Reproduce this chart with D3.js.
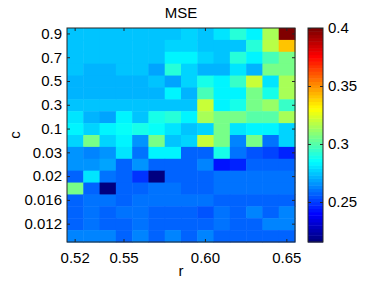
<!DOCTYPE html>
<html><head><meta charset="utf-8">
<script src="https://cdn.jsdelivr.net/npm/d3@7"></script>
<style>body{margin:0;background:#fff}svg{display:block}text{font-family:"Liberation Sans",Arial,sans-serif}</style>
</head><body><svg id="c" width="374" height="281"></svg>
<script>
const rVals = ["0.52","0.53","0.54","0.55","0.56","0.57","0.58","0.59","0.60","0.61","0.62","0.63","0.64","0.65"];
const cVals = ["0.9","0.8","0.7","0.6","0.5","0.4","0.3","0.2","0.1","0.05","0.03","0.025","0.02","0.018","0.016","0.014","0.012","0.01"];
const xTicks = ["0.52","0.55","0.60","0.65"];
const yTicks = ["0.9","0.7","0.5","0.3","0.1","0.03","0.02","0.016","0.012"];
const cbTicks = [0.25,0.3,0.35,0.4];
const mse = [
[0.274,0.274,0.274,0.274,0.274,0.274,0.274,0.278,0.274,0.280,0.292,0.283,0.316,0.400],
[0.274,0.274,0.274,0.274,0.274,0.274,0.277,0.277,0.275,0.275,0.275,0.292,0.318,0.340],
[0.274,0.274,0.274,0.274,0.274,0.274,0.284,0.282,0.277,0.275,0.292,0.282,0.299,0.307],
[0.275,0.271,0.271,0.274,0.274,0.270,0.292,0.277,0.273,0.273,0.279,0.271,0.305,0.307],
[0.273,0.273,0.273,0.273,0.273,0.274,0.270,0.277,0.288,0.282,0.294,0.320,0.279,0.316],
[0.273,0.273,0.273,0.273,0.273,0.273,0.284,0.273,0.297,0.282,0.284,0.305,0.290,0.314],
[0.274,0.274,0.274,0.274,0.274,0.274,0.274,0.275,0.320,0.282,0.288,0.305,0.312,0.295],
[0.279,0.271,0.268,0.282,0.274,0.288,0.292,0.284,0.314,0.305,0.305,0.300,0.300,0.316],
[0.284,0.277,0.284,0.286,0.288,0.286,0.279,0.275,0.277,0.305,0.279,0.284,0.282,0.277],
[0.277,0.307,0.277,0.282,0.267,0.305,0.274,0.277,0.321,0.307,0.263,0.305,0.260,0.277],
[0.265,0.263,0.267,0.279,0.260,0.282,0.282,0.258,0.258,0.288,0.260,0.254,0.251,0.247],
[0.267,0.267,0.270,0.258,0.265,0.258,0.258,0.256,0.263,0.242,0.247,0.256,0.258,0.258],
[0.258,0.279,0.260,0.258,0.249,0.2163,0.256,0.258,0.258,0.259,0.259,0.259,0.259,0.259],
[0.305,0.258,0.218,0.258,0.258,0.260,0.260,0.258,0.258,0.260,0.260,0.260,0.260,0.260],
[0.258,0.260,0.260,0.258,0.260,0.260,0.260,0.260,0.260,0.258,0.258,0.258,0.258,0.258],
[0.258,0.260,0.257,0.260,0.260,0.258,0.258,0.258,0.255,0.260,0.258,0.263,0.258,0.263],
[0.258,0.260,0.258,0.258,0.260,0.258,0.258,0.258,0.258,0.260,0.258,0.258,0.263,0.263],
[0.263,0.263,0.263,0.258,0.263,0.258,0.263,0.258,0.263,0.258,0.258,0.258,0.258,0.256]
];
const vMin = 0.2155, vMax = 0.4;

const svg = d3.select("#c");
const L=67, R=295, T=28, B=242;
const x = d3.scaleBand().domain(rVals).range([L,R]).padding(0);
const y = d3.scaleBand().domain(cVals).range([T,B]).padding(0);
const clamp = v => Math.max(0, Math.min(1, v));
const N = 64;
const jet = d3.range(N).map(i => {
  const t = i/(N-1);
  return d3.rgb(255*clamp(1.5-Math.abs(4*t-3)), 255*clamp(1.5-Math.abs(4*t-2)), 255*clamp(1.5-Math.abs(4*t-1))).toString();
});
const color = d3.scaleQuantize().domain([vMin, vMax]).range(jet);

const cells = [];
cVals.forEach((c,i)=>rVals.forEach((r,j)=>cells.push({r,c,v:mse[i][j]})));
svg.append("g").selectAll("rect").data(cells).join("rect")
  .attr("x", d=>x(d.r)).attr("y", d=>y(d.c))
  .attr("width", x.bandwidth()+0.5).attr("height", y.bandwidth()+0.5)
  .attr("fill", d=>color(d.v));

const fs = "15px";
const tickLen = 3;
const stroke = "#262626";
// frame
svg.append("rect").attr("x",L).attr("y",T).attr("width",R-L).attr("height",B-T)
  .attr("fill","none").attr("stroke",stroke).attr("stroke-width",1);
const xc = v => x(v)+x.bandwidth()/2;
const yc = v => y(v)+y.bandwidth()/2;
// axes
const xAx = svg.append("g").attr("transform",`translate(0,${B})`)
  .call(d3.axisBottom(x).tickValues(xTicks).tickSizeInner(-tickLen).tickSizeOuter(0).tickPadding(10));
const xAxT = svg.append("g").attr("transform",`translate(0,${T})`)
  .call(d3.axisTop(x).tickValues(xTicks).tickSizeInner(-tickLen).tickSizeOuter(0).tickFormat(""));
const yAx = svg.append("g").attr("transform",`translate(${L},0)`)
  .call(d3.axisLeft(y).tickValues(yTicks).tickSizeInner(-tickLen).tickSizeOuter(0).tickPadding(5));
const yAxR = svg.append("g").attr("transform",`translate(${R},0)`)
  .call(d3.axisRight(y).tickValues(yTicks).tickSizeInner(-tickLen).tickSizeOuter(0).tickFormat(""));
[xAx,xAxT,yAx,yAxR].forEach(g=>{
  g.select(".domain").remove();
  g.selectAll("line").attr("stroke",stroke);
  g.selectAll("text").attr("font-size",fs).attr("fill","#000").style("font-family",'"Liberation Sans",Arial,sans-serif');
});

// colorbar
const cbL=308, cbR=323;
const cy = d3.scaleLinear().domain([vMin,vMax]).range([B,T]);
const step = (vMax-vMin)/N;
svg.append("g").selectAll("rect").data(jet).join("rect")
  .attr("x",cbL).attr("width",cbR-cbL)
  .attr("y",(d,i)=>cy(vMin+(i+1)*step)).attr("height",(d,i)=>cy(vMin+i*step)-cy(vMin+(i+1)*step)+0.5)
  .attr("fill",d=>d);
svg.append("rect").attr("x",cbL).attr("y",T).attr("width",cbR-cbL).attr("height",B-T)
  .attr("fill","none").attr("stroke",stroke);
const cbAx = svg.append("g").attr("transform",`translate(${cbR},0)`)
  .call(d3.axisRight(cy).tickValues(cbTicks).tickFormat(d3.format("")).tickSizeInner(-tickLen).tickSizeOuter(0).tickPadding(5));
cbAx.select(".domain").remove();
cbAx.selectAll("line").attr("stroke",stroke);
cbAx.selectAll("text").attr("font-size",fs).attr("fill","#000");
const cbAxL = svg.append("g").attr("transform",`translate(${cbL},0)`)
  .call(d3.axisLeft(cy).tickValues(cbTicks).tickFormat("").tickSizeInner(-tickLen).tickSizeOuter(0));
cbAxL.select(".domain").remove();
cbAxL.selectAll("line").attr("stroke",stroke);

// labels
svg.append("text").attr("x",(L+R)/2).attr("y",18).attr("text-anchor","middle").attr("font-size",fs).text("MSE");
svg.append("text").attr("x",(L+R)/2).attr("y",276).attr("text-anchor","middle").attr("font-size",fs).text("r");
svg.append("text").attr("transform",`translate(20,${(T+B)/2}) rotate(-90)`).attr("text-anchor","middle").attr("font-size",fs).text("c");
</script></body></html>
